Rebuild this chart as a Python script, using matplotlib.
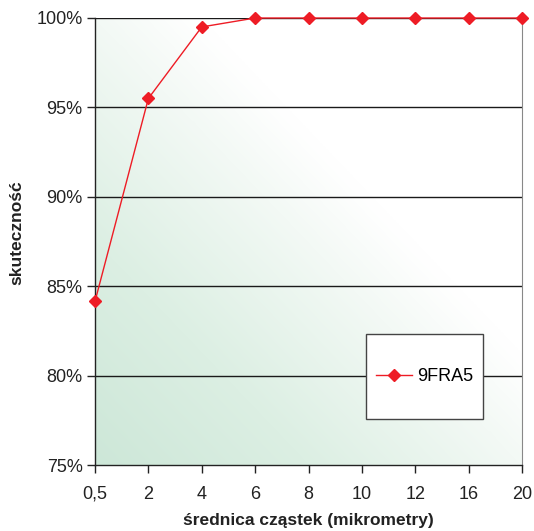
import matplotlib
matplotlib.use("Agg")
import matplotlib.pyplot as plt
import numpy as np
from matplotlib.colors import LinearSegmentedColormap
from matplotlib.patches import Rectangle

plt.rcParams['font.family'] = ['Liberation Sans', 'DejaVu Sans']

categories = ["0,5", "2", "4", "6", "8", "10", "12", "16", "20"]
efficiency = [84.15, 95.5, 99.5, 100, 100, 100, 100, 100, 100]
series_name = "9FRA5"
y_ticks = [75, 80, 85, 90, 95, 100]

red = "#ee1c25"
W, H = 534, 531

fig = plt.figure(figsize=(W / 100, H / 100), dpi=100)
ax = fig.add_axes([95 / W, 66 / H, 427 / W, 447 / H])

x = np.arange(len(categories))
ax.set_xlim(0, len(categories) - 1)
ax.set_ylim(75, 100)

# diagonal gradient background: green at lower-left fading to white
n = 300
gx, gy = np.meshgrid(np.linspace(0, 1, n), np.linspace(0, 1, n))
t = np.clip((gx + gy) / 2, 0, 1)
cmap = LinearSegmentedColormap.from_list(
    "bg", [(0, "#cde7d8"), (0.25, "#dcefe3"), (0.5, "#f3f9f5"),
           (0.62, "#ffffff"), (1, "#ffffff")])
ax.imshow(t, cmap=cmap, origin="lower", aspect="auto",
          extent=[0, len(categories) - 1, 75, 100], zorder=0, interpolation="bicubic")

for yv in y_ticks[1:]:
    ax.axhline(yv, color="#1a1a1a", lw=1.0, zorder=1)

ax.plot(x, efficiency, color=red, lw=1.0, marker="D", markersize=6,
        markerfacecolor=red, markeredgecolor=red, label=series_name,
        zorder=3, clip_on=False)

ax.set_xticks(x)
ax.set_xticklabels(categories)
ax.set_yticks(y_ticks)
ax.set_yticklabels([f"{v}%" for v in y_ticks])
ax.tick_params(axis="both", labelsize=13, colors="#222222", length=6, width=1.0,
               direction="out")
ax.tick_params(axis="x", pad=9)
ax.tick_params(axis="y", pad=3)

for side in ["left", "bottom"]:
    ax.spines[side].set_color("#222222")
    ax.spines[side].set_linewidth(1.0)
ax.spines["right"].set_color("#888888")
ax.spines["top"].set_visible(False)

fig.text(308 / W, 1 - 521 / H, "średnica cząstek (mikrometry)", fontsize=12.5,
         fontweight="bold", color="#222222", ha="center", va="center")
fig.text(17 / W, 1 - 233 / H, "skuteczność", fontsize=12.5, fontweight="bold",
         color="#222222", ha="center", va="center", rotation=90)

# legend box
box = Rectangle((366 / W, 1 - 419 / H), 117 / W, 85 / H, transform=fig.transFigure,
                facecolor="white", edgecolor="#444444", lw=1.0, zorder=5)
fig.add_artist(box)
leg = fig.legend(*ax.get_legend_handles_labels(), loc="center",
                 bbox_to_anchor=(424.5 / W, 1 - 376.5 / H), frameon=False,
                 fontsize=13, handlelength=2.0, handletextpad=0.25,
                 borderpad=0, borderaxespad=0)
leg.set_zorder(6)

fig.savefig("out.png", dpi=100)
